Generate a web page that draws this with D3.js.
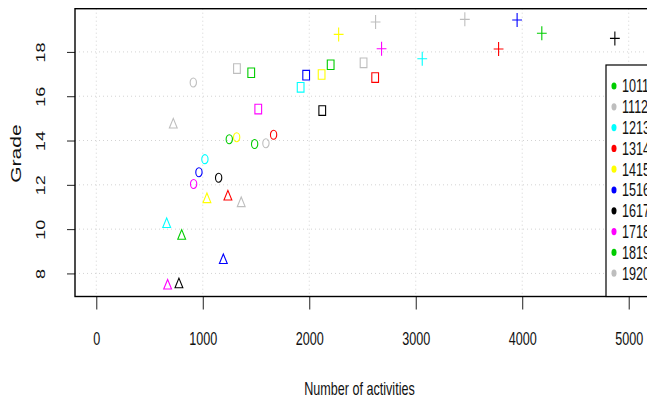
<!DOCTYPE html>
<html>
<head>
<meta charset="utf-8">
<script src="https://cdn.jsdelivr.net/npm/d3@7/dist/d3.min.js"></script>
<style>
  body { margin: 0; background: #fff; }
  text { font-family: "Liberation Sans", Arial, Helvetica, sans-serif; fill: #111; }
</style>
</head>
<body>
<div id="container"></div>
<script>
/* CONSTANTS AND GLOBALS */
const width = 647,
  height = 402,
  margin = { top: 8.7, bottom: 106, left: 75, right: -3 },
  squeeze = 0.7   // the picture is squashed sideways

/* DATA */
const years = ["1011", "1112", "1213", "1314", "1415", "1516", "1617", "1718", "1819", "1920"]
const colors = ["#00cd00", "#bebebe", "#00ffff", "#ff0000", "#ffff00", "#0000ff", "#000000", "#ff00ff", "#00cd00", "#bebebe"]

// activities and grade for each of the four marks per year (null = missing)
const triActs   = [802, 723, 661, 1236, 1039, 1193, 776, 670, null, 1361]
const triGrade  = [9.69, 14.71, 10.22, 11.46, 11.34, 8.59, 7.50, 7.44, null, 11.16]
const circActs  = [1249, 911, 1020, 1665, 1318, 964, 1149, 914, 1487, 1593]
const circGrade = [14.06, 16.62, 13.16, 14.26, 14.15, 12.57, 12.32, 12.04, 13.84, 13.88]
const sqActs    = [1455, 1321, 1919, 2619, 2116, 1971, 2122, 1521, 2201, 2510]
const sqGrade   = [17.06, 17.25, 16.40, 16.84, 16.98, 16.95, 15.35, 15.42, 17.42, 17.51]
const plusActs  = [4184, 2623, 3061, 3778, 2276, 3952, 4870, 2679, null, 3461]
const plusGrade = [18.84, 19.35, 17.69, 18.13, 18.79, 19.44, 18.61, 18.14, null, 19.47]

const xTicks = [0, 1000, 2000, 3000, 4000, 5000]
const yTicks = [8, 10, 12, 14, 16, 18]

// long format for drawing
const points = []
const groups = [
  ["tri", triActs, triGrade],
  ["circ", circActs, circGrade],
  ["sq", sqActs, sqGrade],
  ["plus", plusActs, plusGrade]
]
groups.forEach(([shape, acts, grades]) => {
  years.forEach((y, i) => {
    if (acts[i] != null) points.push({ year: y, color: colors[i], shape: shape, acts: acts[i], grade: grades[i] })
  })
})

/* SCALES */
// R style 4% padding
const xlim = [0, 5000]
const xpad = (xlim[1] - xlim[0]) * 0.04
const xScale = d3.scaleLinear()
  .domain([xlim[0] - xpad, xlim[1] + xpad])
  .range([margin.left, width - margin.right])

const gExt = d3.extent(points, d => d.grade)
const ypad = (gExt[1] - gExt[0]) * 0.04
const yScale = d3.scaleLinear()
  .domain([gExt[0] - ypad, gExt[1] + ypad])
  .range([height - margin.bottom + 0.5, margin.top])

/* HTML ELEMENTS */
const svg = d3.select("#container")
  .append("svg")
  .attr("width", width)
  .attr("height", height)

const [px0, px1] = xScale.range()
const [py0, py1] = yScale.range()

// grid
svg.append("g")
  .selectAll("line")
  .data(xTicks)
  .join("line")
  .attr("x1", d => xScale(d)).attr("x2", d => xScale(d))
  .attr("y1", py1).attr("y2", py0)
  .attr("stroke", "#d3d3d3").attr("stroke-dasharray", "1,3")

svg.append("g")
  .selectAll("line")
  .data(yTicks)
  .join("line")
  .attr("x1", px0).attr("x2", px1)
  .attr("y1", d => yScale(d)).attr("y2", d => yScale(d))
  .attr("stroke", "#d3d3d3").attr("stroke-dasharray", "1,3")

// axes
const xAxis = svg.append("g")
  .attr("transform", `translate(0,${py0})`)
  .call(d3.axisBottom(xScale).tickValues(xTicks).tickFormat(d3.format("d")).tickSize(13).tickSizeOuter(0))
xAxis.select(".domain").remove()
xAxis.selectAll("line").attr("stroke", "#222")
xAxis.selectAll("text")
  .attr("font-size", 18)
  .attr("fill", "#111")
  .attr("y", 0).attr("dy", 0)
  .attr("transform", `translate(0,48) scale(${squeeze},1)`)

const yAxis = svg.append("g")
  .attr("transform", `translate(${px0},0)`)
  .call(d3.axisLeft(yScale).tickValues(yTicks).tickSize(8).tickSizeOuter(0))
yAxis.select(".domain").remove()
yAxis.selectAll("line").attr("stroke", "#222")
yAxis.selectAll("text")
  .attr("font-size", 18)
  .attr("fill", "#111")
  .attr("x", 0).attr("dy", "0.36em")
  .attr("text-anchor", "middle")
  .attr("transform", `translate(-35,0) scale(${squeeze},1) rotate(-90)`)

// frame
svg.append("rect")
  .attr("x", px0).attr("y", py1)
  .attr("width", px1 - px0).attr("height", py0 - py1)
  .attr("fill", "none").attr("stroke", "#000").attr("stroke-width", 1.4)

// marks
const shapePath = {
  circ: "M4.5,0A4.5,4.5 0 1,1 -4.5,0A4.5,4.5 0 1,1 4.5,0Z",
  sq: "M-4.8,-4.8H4.8V4.8H-4.8Z",
  tri: "M0,-6.4L5.6,3.2L-5.6,3.2Z",
  plus: "M-7,0H7M0,-7V7"
}

svg.append("g")
  .selectAll("path")
  .data(points)
  .join("path")
  .attr("d", d => shapePath[d.shape])
  .attr("transform", d => `translate(${xScale(d.acts)},${yScale(d.grade)}) scale(${squeeze},1)`)
  .attr("fill", "none")
  .attr("stroke", d => d.color)
  .attr("stroke-width", 1.1)
  .attr("vector-effect", "non-scaling-stroke")

// legend (bottom right)
const legX = 606, legTop = 65
svg.append("rect")
  .attr("x", legX).attr("y", legTop)
  .attr("width", px1 - legX).attr("height", py0 - legTop)
  .attr("fill", "#fff").attr("stroke", "#000").attr("stroke-width", 1.2)

const legItems = svg.append("g")
  .selectAll("g")
  .data(years)
  .join("g")
  .attr("transform", (d, i) => `translate(${legX + 8},${legTop + 21 + i * 20.8})`)

legItems.append("ellipse")
  .attr("rx", 3.6 * squeeze).attr("ry", 3.6)
  .attr("fill", (d, i) => colors[i])

legItems.append("text")
  .attr("transform", `translate(8,0) scale(${squeeze},1)`)
  .attr("dy", "0.36em")
  .attr("font-size", 18)
  .text(d => d)

// axis titles
svg.append("text")
  .attr("transform", `translate(${(px0 + px1) / 2 - 3},395) scale(${squeeze},1)`)
  .attr("text-anchor", "middle")
  .attr("font-size", 18)
  .text("Number of activities")

svg.append("text")
  .attr("transform", `translate(16,${(py0 + py1) / 2 + 1}) scale(${squeeze},1) rotate(-90)`)
  .attr("text-anchor", "middle")
  .attr("dy", "0.36em")
  .attr("font-size", 21)
  .text("Grade")
</script>
</body>
</html>
